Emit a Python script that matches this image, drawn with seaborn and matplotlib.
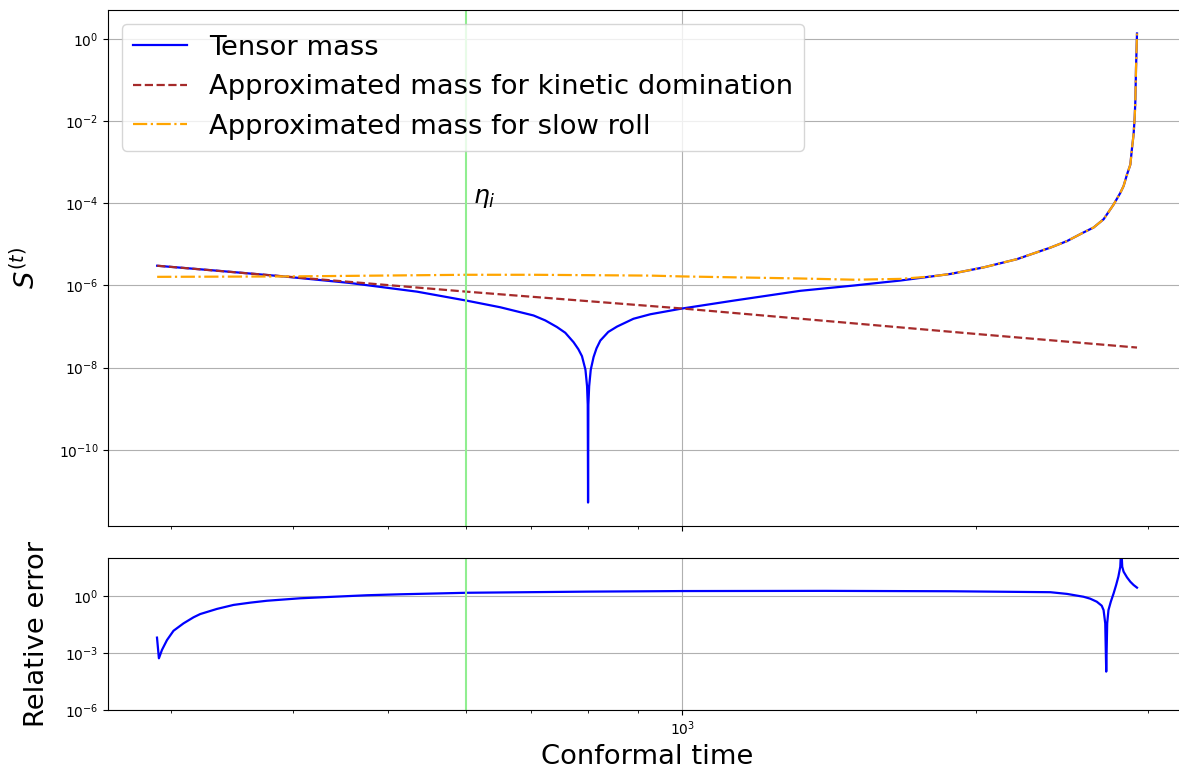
import numpy as np
import matplotlib
matplotlib.use("Agg")
import matplotlib.pyplot as plt
import matplotlib.ticker as mticker
import seaborn as sns

# ---- data (values stored as log10) ----
eta_tensor = [290.1, 334.0, 390.7, 457.2, 535.1, 602.0, 651.2, 704.4, 724.1, 744.2,
              759.0, 774.0, 782.8, 789.5, 796.0, 799.0, 800.3, 800.9, 801.5, 803.0,
              806.0, 811.4, 817.0, 824.4, 840.0, 857.5, 891.3, 927.6, 1000.0, 1127.5,
              1320.5, 1500.0, 1671.6, 1880.7, 2034.6, 2200.6, 2380.8, 2476.4, 2574.7, 2636.3,
              2699.0, 2763.7, 2807.3, 2829.4, 2852.3, 2874.7, 2886.0, 2896.7, 2904.0, 2908.7,
              2913.4, 2920.2]
log_tensor = [-5.52, -5.64, -5.78, -5.94, -6.15, -6.37, -6.53, -6.73, -6.85, -7.01,
              -7.15, -7.38, -7.55, -7.72, -8.05, -8.45, -8.90, -11.28, -8.90, -8.45,
              -8.05, -7.74, -7.53, -7.34, -7.13, -7.00, -6.81, -6.70, -6.56, -6.37,
              -6.13, -6.00, -5.88, -5.72, -5.56, -5.36, -5.08, -4.92, -4.71, -4.59,
              -4.39, -4.03, -3.75, -3.58, -3.30, -3.06, -2.66, -2.33, -1.93, -1.53,
              -0.72, 0.13]

eta_kinetic = [290.1, 600.9, 1000.0, 2000.0, 2920.2]
log_kinetic = [-5.52, -6.15, -6.56, -7.18, -7.51]

eta_slowroll = [290.1, 396.0, 602.0, 704.4, 927.6, 1000.0, 1320.5, 1500.0, 1671.6, 1800.0,
                1880.7, 2034.6, 2200.6, 2380.8, 2476.4, 2574.7, 2636.3, 2699.0, 2763.7,
                2807.3, 2829.4, 2852.3, 2874.7, 2886.0, 2896.7, 2904.0, 2908.7, 2913.4, 2920.2]
log_slowroll = [-5.79, -5.78, -5.74, -5.74, -5.76, -5.78, -5.83, -5.86, -5.84, -5.78,
                -5.72, -5.56, -5.36, -5.08, -4.92, -4.71, -4.59, -4.39, -4.03,
                -3.75, -3.58, -3.30, -3.06, -2.66, -2.33, -1.93, -1.53, -0.72, 0.13]

eta_err = [290.0, 291.3, 293.4, 296.9, 301.5, 308.7, 316.1, 321.1, 334.0, 347.3,
           361.3, 375.8, 406.4, 439.6, 475.9, 514.4, 602.0, 800.0, 1000.0, 1400.0,
           1880.7, 2380.8, 2476.4, 2574.7, 2615.0, 2656.1, 2687.1, 2699.0, 2709.6, 2715.9,
           2722.1, 2730.3, 2745.4, 2763.7, 2780.1, 2794.8, 2807.3, 2813.8, 2820.3, 2829.4,
           2852.3, 2874.7, 2896.7, 2920.2]
log_err = [-2.19, -3.28, -2.84, -2.32, -1.83, -1.44, -1.12, -0.95, -0.68, -0.47,
           -0.35, -0.25, -0.12, -0.04, 0.04, 0.09, 0.17, 0.23, 0.26, 0.27,
           0.25, 0.20, 0.11, -0.04, -0.14, -0.30, -0.51, -0.74, -1.44, -3.98,
           -1.44, -0.74, -0.30, 0.14, 0.58, 1.02, 1.54, 2.60, 1.54, 1.28,
           0.98, 0.75, 0.58, 0.44]

eta_i = 600.0
labels = ["Tensor mass", "Approximated mass for kinetic domination",
          "Approximated mass for slow roll"]

# ---- figure ----
W, H = 1179, 772
FS = 19.7
fig = plt.figure(figsize=(W / 100, H / 100), dpi=100)
left = 108 / W
width = (1186 - 108) / W
ax1 = fig.add_axes([left, 1 - 526 / H, width, 516 / H])
ax2 = fig.add_axes([left, 1 - 710 / H, width, 152 / H], sharex=ax1)

for ax in (ax1, ax2):
    ax.set_xscale("log")
    ax.set_yscale("log")

LW = 1.6
sns.lineplot(x=eta_tensor, y=10 ** np.array(log_tensor), ax=ax1, color="blue",
             linewidth=LW, label=labels[0], sort=False)
sns.lineplot(x=eta_kinetic, y=10 ** np.array(log_kinetic), ax=ax1, color="brown",
             linewidth=LW, linestyle="--", label=labels[1], sort=False)
sns.lineplot(x=eta_slowroll, y=10 ** np.array(log_slowroll), ax=ax1, color="orange",
             linewidth=LW, linestyle="-.", label=labels[2], sort=False)
ax1.axvline(eta_i, color="lightgreen", linewidth=1.5)
ax1.text(eta_i * 1.018, 1e-4, r"$\eta_i$", fontsize=18)

sns.lineplot(x=eta_err, y=10 ** np.array(log_err), ax=ax2, color="blue",
             linewidth=LW, sort=False)
ax2.axvline(eta_i, color="lightgreen", linewidth=1.5)
ax2.set_ylim(1e-6, 1e2)

ax1.set_yticks([1e-10, 1e-8, 1e-6, 1e-4, 1e-2, 1e0])
ax1.yaxis.set_minor_locator(mticker.NullLocator())
ax2.set_yticks([1e-6, 1e-3, 1e0])
ax2.yaxis.set_minor_locator(mticker.NullLocator())
ax2.xaxis.set_minor_formatter(mticker.NullFormatter())
plt.setp(ax1.get_xticklabels(), visible=False)
plt.setp(ax1.get_xticklabels(minor=True), visible=False)

for ax in (ax1, ax2):
    ax.grid(True, which="major")

ax1.set_ylabel(r"$S^{(t)}$", fontsize=FS)
ax2.set_ylabel("Relative error", fontsize=FS)
ax2.set_xlabel("Conformal time", fontsize=FS)
ax1.yaxis.set_label_coords(-0.062, 0.5)
ax2.yaxis.set_label_coords(-0.054, 0.5)

ax1.legend(loc="upper left", fontsize=FS)

fig.savefig("out.png", dpi=100)
